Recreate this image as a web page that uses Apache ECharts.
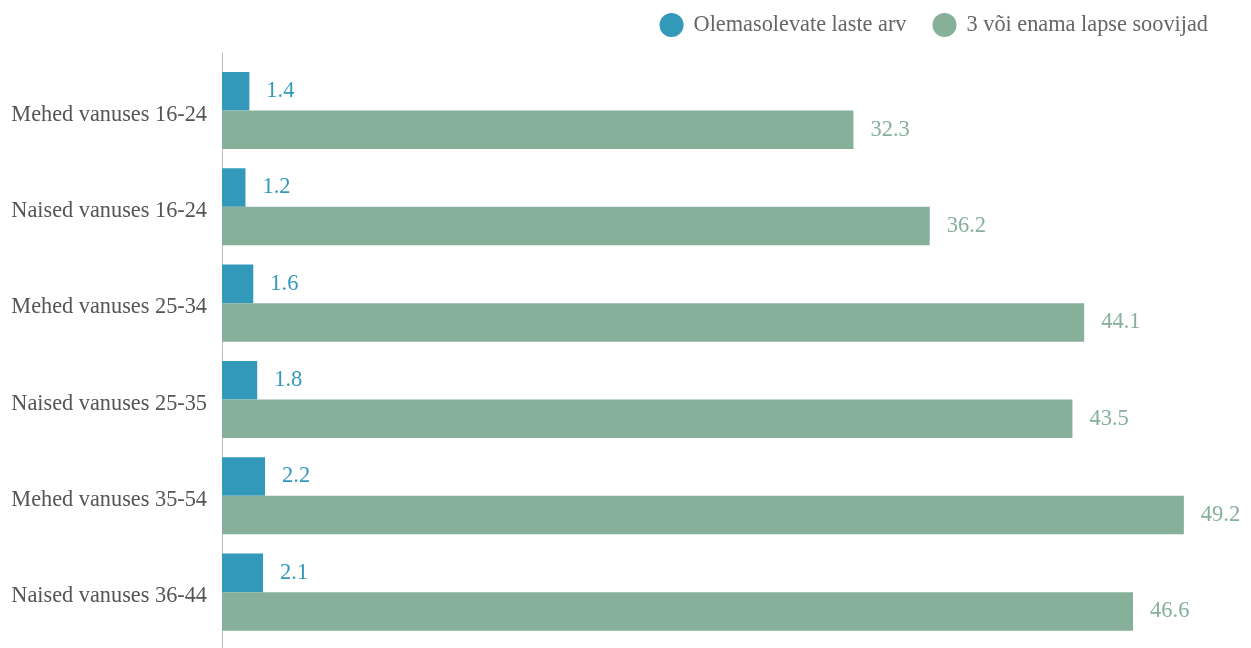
<!DOCTYPE html>
<html>
<head>
<meta charset="utf-8">
<script src="https://cdn.jsdelivr.net/npm/echarts@6/dist/echarts.min.js"></script>
<style>
html,body{margin:0;padding:0;background:#fff;}
#chart{width:1251px;height:648px;}
</style>
</head>
<body>
<div id="chart"></div>
<script>
const categories = ["Mehed vanuses 16-24","Naised vanuses 16-24","Mehed vanuses 25-34","Naised vanuses 25-35","Mehed vanuses 35-54","Naised vanuses 36-44"];
const seriesNames = ["Olemasolevate laste arv","3 või enama lapse soovijad"];
const existingChildren = [1.4,1.2,1.6,1.8,2.2,2.1];
const wantThreeOrMore = [32.3,36.2,44.1,43.5,49.2,46.6];

const FONT = "Liberation Serif";
const BLUE = "#3399bb";
const GREEN = "#86b09a";

const chart = echarts.init(document.getElementById('chart'));
chart.setOption({
  animation: false,
  textStyle: {fontFamily: FONT},
  legend: {
    top: 8, right: 38,
    icon: 'circle', itemWidth: 24, itemHeight: 24, itemGap: 26,
    textStyle: {fontFamily: FONT, fontSize: 22.3, color: '#666', padding: [0,0,0,5]},
    data: seriesNames
  },
  grid: [
    {left: 222, right: 51.5, top: 62.3, bottom: 7.7, containLabel: false},
    {left: 222, right: 51.5, top: 53, bottom: -10, containLabel: false}
  ],
  xAxis: [
    {type: 'value', min: 0, max: 50, show: false, gridIndex: 0},
    {type: 'value', min: 0, max: 50, show: false, gridIndex: 1}
  ],
  yAxis: [
    {type: 'category', data: categories, inverse: true, gridIndex: 0,
     axisLine: {show: false}, axisTick: {show: false},
     axisLabel: {fontFamily: FONT, fontSize: 22.3, color: '#555', margin: 15,
       formatter: function (v) { return '{c|' + v + '}'; },
       rich: {c: {fontFamily: FONT, fontSize: 22.3, color: '#555', padding: [9, 0, 0, 0]}}}},
    {type: 'category', data: categories, inverse: true, gridIndex: 1,
     axisLine: {show: true, lineStyle: {color: '#bbb', width: 1}}, axisTick: {show: false},
     axisLabel: {show: false}}
  ],
  series: [
    {name: seriesNames[0], type: 'bar', data: existingChildren, xAxisIndex: 0, yAxisIndex: 0,
     itemStyle: {color: BLUE}, barGap: '0%', barCategoryGap: '20%',
     label: {show: true, position: 'right', distance: 17, color: BLUE, fontFamily: FONT, fontSize: 22.5}},
    {name: seriesNames[1], type: 'bar', data: wantThreeOrMore, xAxisIndex: 0, yAxisIndex: 0,
     itemStyle: {color: GREEN}, barGap: '0%', barCategoryGap: '20%',
     label: {show: true, position: 'right', distance: 17, color: GREEN, fontFamily: FONT, fontSize: 22.5}}
  ]
});
</script>
</body>
</html>
